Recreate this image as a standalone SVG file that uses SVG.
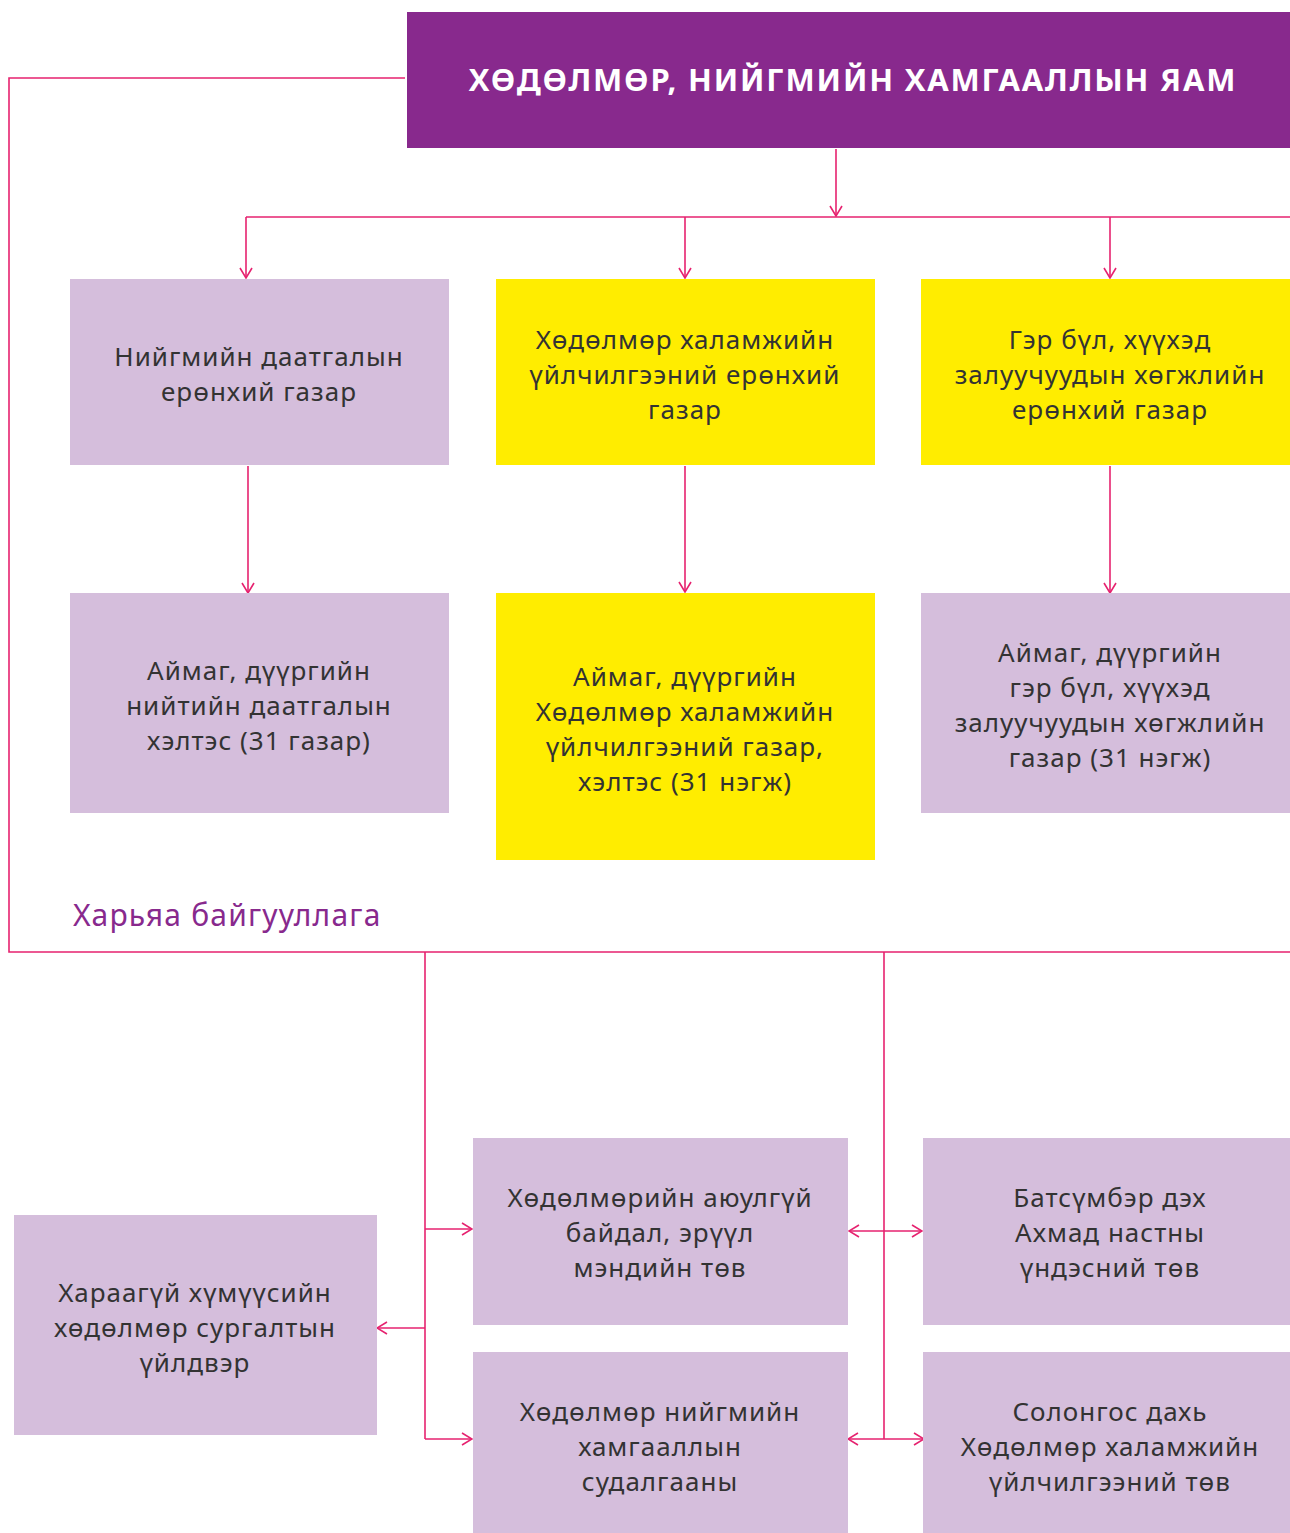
<svg xmlns="http://www.w3.org/2000/svg" width="1290" height="1533" viewBox="0 0 1290 1533">
<style>
.lil{fill:#D5BEDC}
.yel{fill:#FFED00}
.t{font-family:"Noto Sans","Open Sans",sans-serif;font-size:26px;fill:#333;text-anchor:middle;letter-spacing:1px}
.c{fill:none;stroke:#E6226F;stroke-width:1.6}
</style>
<defs>
<marker id="ah" viewBox="0 0 14 14" refX="13" refY="7" markerWidth="14" markerHeight="14" markerUnits="userSpaceOnUse" orient="auto-start-reverse">
<path d="M3,1 L13,7 L3,13" fill="none" stroke="#E6226F" stroke-width="1.6"/>
</marker>
</defs>
<rect width="1290" height="1533" fill="#fff"/>
<g id="connectors">
<path class="c" d="M405,78 H9 V952 H1290"/>
<path class="c" d="M836,149 V216" marker-end="url(#ah)"/>
<path class="c" d="M246,217 H1290"/>
<path class="c" d="M246,217 V278" marker-end="url(#ah)"/>
<path class="c" d="M685,217 V278" marker-end="url(#ah)"/>
<path class="c" d="M1110,217 V278" marker-end="url(#ah)"/>
<path class="c" d="M248,466 V593" marker-end="url(#ah)"/>
<path class="c" d="M685,466 V592" marker-end="url(#ah)"/>
<path class="c" d="M1110,466 V593" marker-end="url(#ah)"/>
<path class="c" d="M425,952 V1439"/>
<path class="c" d="M884,952 V1439"/>
<path class="c" d="M425,1229 H472" marker-end="url(#ah)"/>
<path class="c" d="M425,1439 H472" marker-end="url(#ah)"/>
<path class="c" d="M425,1328 H377" marker-end="url(#ah)"/>
<path class="c" d="M849,1231 H922" marker-start="url(#ah)" marker-end="url(#ah)"/>
<path class="c" d="M848,1439 H924" marker-start="url(#ah)" marker-end="url(#ah)"/>
</g>
<g id="ministry">
<rect x="407" y="12" width="883" height="136" fill="#88298D"/>
<text x="853" y="91" font-family="'Noto Sans','Open Sans',sans-serif" font-size="31" font-weight="bold" fill="#fff" text-anchor="middle" letter-spacing="1.8">ХӨДӨЛМӨР, НИЙГМИЙН ХАМГААЛЛЫН ЯАМ</text>
</g>
<g id="n1">
<rect class="lil" x="70" y="279" width="379" height="186"/>
<text class="t" x="259" y="366">Нийгмийн даатгалын</text>
<text class="t" x="259" y="401">ерөнхий газар</text>
</g>
<g id="n2">
<rect class="yel" x="496" y="279" width="379" height="186"/>
<text class="t" x="685" y="349">Хөдөлмөр халамжийн</text>
<text class="t" x="685" y="384">үйлчилгээний ерөнхий</text>
<text class="t" x="685" y="419">газар</text>
</g>
<g id="n3">
<rect class="yel" x="921" y="279" width="369" height="186"/>
<text class="t" x="1110" y="349">Гэр бүл, хүүхэд</text>
<text class="t" x="1110" y="384">залуучуудын хөгжлийн</text>
<text class="t" x="1110" y="419">ерөнхий газар</text>
</g>
<g id="n4">
<rect class="lil" x="70" y="593" width="379" height="220"/>
<text class="t" x="259" y="680">Аймаг, дүүргийн</text>
<text class="t" x="259" y="715">нийтийн даатгалын</text>
<text class="t" x="259" y="750">хэлтэс (31 газар)</text>
</g>
<g id="n5">
<rect class="yel" x="496" y="593" width="379" height="267"/>
<text class="t" x="685" y="686">Аймаг, дүүргийн</text>
<text class="t" x="685" y="721">Хөдөлмөр халамжийн</text>
<text class="t" x="685" y="756">үйлчилгээний газар,</text>
<text class="t" x="685" y="791">хэлтэс (31 нэгж)</text>
</g>
<g id="n6">
<rect class="lil" x="921" y="593" width="369" height="220"/>
<text class="t" x="1110" y="662">Аймаг, дүүргийн</text>
<text class="t" x="1110" y="697">гэр бүл, хүүхэд</text>
<text class="t" x="1110" y="732">залуучуудын хөгжлийн</text>
<text class="t" x="1110" y="767">газар (31 нэгж)</text>
</g>
<g id="label">
<text x="73" y="926" font-family="'Noto Sans','Open Sans',sans-serif" font-size="30" fill="#88298D" letter-spacing="1.2">Харьяа байгууллага</text>
</g>
<g id="n7">
<rect class="lil" x="473" y="1138" width="375" height="187"/>
<text class="t" x="660" y="1207">Хөдөлмөрийн аюулгүй</text>
<text class="t" x="660" y="1242">байдал, эрүүл</text>
<text class="t" x="660" y="1277">мэндийн төв</text>
</g>
<g id="n8">
<rect class="lil" x="473" y="1352" width="375" height="181"/>
<text class="t" x="660" y="1421">Хөдөлмөр нийгмийн</text>
<text class="t" x="660" y="1456">хамгааллын</text>
<text class="t" x="660" y="1491">судалгааны</text>
</g>
<g id="n9">
<rect class="lil" x="923" y="1138" width="367" height="187"/>
<text class="t" x="1110" y="1207">Батсүмбэр дэх</text>
<text class="t" x="1110" y="1242">Ахмад настны</text>
<text class="t" x="1110" y="1277">үндэсний төв</text>
</g>
<g id="n10">
<rect class="lil" x="923" y="1352" width="367" height="181"/>
<text class="t" x="1110" y="1421">Солонгос дахь</text>
<text class="t" x="1110" y="1456">Хөдөлмөр халамжийн</text>
<text class="t" x="1110" y="1491">үйлчилгээний төв</text>
</g>
<g id="n11">
<rect class="lil" x="14" y="1215" width="363" height="220"/>
<text class="t" x="195" y="1302">Хараагүй хүмүүсийн</text>
<text class="t" x="195" y="1337">хөдөлмөр сургалтын</text>
<text class="t" x="195" y="1372">үйлдвэр</text>
</g>
</svg>
